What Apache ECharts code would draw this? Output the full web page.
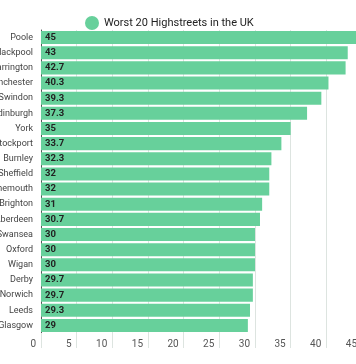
<!DOCTYPE html>
<html>
<head>
<meta charset="utf-8">
<script src="https://cdn.jsdelivr.net/npm/echarts@6/dist/echarts.min.js"></script>
<style>
html,body{margin:0;padding:0;background:#fff;}
#main{width:356px;height:364px;}
</style>
</head>
<body>
<div id="main"></div>
<script>
const seriesName = 'Worst 20 Highstreets in the UK';
const categories = ['Poole','Blackpool','Warrington','Manchester','Swindon','Edinburgh','York','Stockport','Burnley','Sheffield','Bournemouth','Brighton','Aberdeen','Swansea','Oxford','Wigan','Derby','Norwich','Leeds','Glasgow'];
const values = [45,43,42.7,40.3,39.3,37.3,35,33.7,32.3,32,32,31,30.7,30,30,30,29.7,29.7,29.3,29];
const xTicks = {min:0, max:45, interval:5};

const chart = echarts.init(document.getElementById('main'));
chart.setOption({
  animation:false,
  textStyle:{fontFamily:'Roboto'},
  legend:{
    left:80, top:11,
    icon:'circle', itemWidth:14, itemHeight:14, itemGap:8,
    textStyle:{fontSize:11, color:'#222', fontFamily:'Roboto'},
    data:[seriesName]
  },
  grid:{left:41, right:-6, top:30, bottom:31, containLabel:false, outerBoundsMode:'none'},
  xAxis:{
    type:'value', min:xTicks.min, max:xTicks.max, interval:xTicks.interval,
    axisLine:{show:false},
    axisTick:{show:true, length:15, lineStyle:{color:'#dde4e0'}},
    splitLine:{show:true, lineStyle:{color:'#dde4e0'}},
    axisLabel:{color:'#555', fontSize:10, align:'right', verticalAlign:'middle', margin:11, padding:[0,5,0,0], showMaxLabel:true, showMinLabel:true, hideOverlap:false}
  },
  yAxis:{
    type:'category', inverse:true, data:categories,
    axisLine:{show:true, lineStyle:{color:'#555'}},
    axisTick:{show:false},
    axisLabel:{color:'#444', fontSize:9, margin:8, interval:0, hideOverlap:false}
  },
  series:[{
    name:seriesName, type:'bar', data:values,
    barCategoryGap:'14%',
    itemStyle:{color:'#67d09b'},
    label:{show:true, position:'insideLeft', distance:4, color:'#222', fontSize:9.5, fontWeight:'bold'}
  }]
});
</script>
</body>
</html>
